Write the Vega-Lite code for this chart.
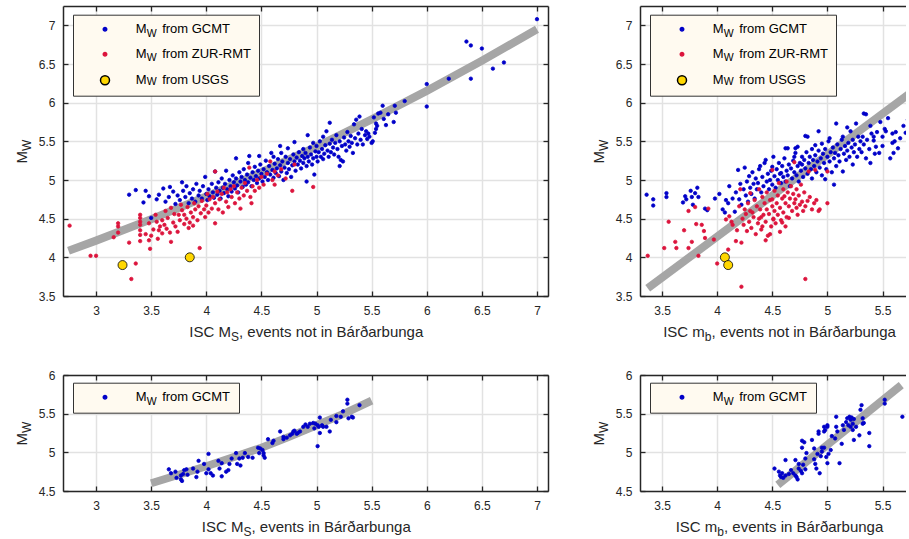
{
"$schema": "https://vega.github.io/schema/vega-lite/v6.json",
"background": "white",
"padding": {"left": 14, "top": 5, "right": 0, "bottom": 0},
"config": {
  "font": "Liberation Sans",
  "view": {"stroke": null},
  "axis": {"labelFontSize": 12, "labelColor": "#262626", "titleFontSize": 15, "titleColor": "#262626", "titleFontWeight": "normal", "domainColor": "#262626", "domainWidth": 1.5, "tickColor": "#262626", "tickWidth": 1.3, "tickSize": -5, "gridColor": "#e2e2e2", "gridWidth": 1.5, "labelFlush": false, "labelOverlap": false, "labelBound": false, "labelPadding": 13},
  "legend": {"labelFontSize": 13, "labelColor": "#000000", "labelLimit": 400}
},
"datasets": {
"ftl": [{"x":2.75,"y":4.086},{"x":3.0,"y":4.216},{"x":3.5,"y":4.492},{"x":4.0,"y":4.786},{"x":4.5,"y":5.1},{"x":5.0,"y":5.432},{"x":5.5,"y":5.783},{"x":6.0,"y":6.153},{"x":6.5,"y":6.542},{"x":7.0,"y":6.95}],
"ftr": [{"x":3.37,"y":3.6},{"x":5.9,"y":6.28}],
"fbl": [{"x":3.5,"y":4.6},{"x":3.75,"y":4.71},{"x":4.0,"y":4.82},{"x":4.25,"y":4.94},{"x":4.5,"y":5.06},{"x":4.75,"y":5.2},{"x":5.0,"y":5.35},{"x":5.25,"y":5.5},{"x":5.5,"y":5.67}],
"fbr": [{"x":4.55,"y":4.58},{"x":5.67,"y":5.87}],
"tl": [
{"x":3.30,"y":4.81,"s":"G"},{"x":3.36,"y":4.87,"s":"G"},{"x":3.43,"y":4.71,"s":"G"},{"x":3.45,"y":4.86,"s":"G"},{"x":3.48,"y":4.79,"s":"G"},{"x":3.50,"y":4.51,"s":"G"},{"x":3.55,"y":4.75,"s":"G"},{"x":3.57,"y":4.81,"s":"G"},{"x":3.61,"y":4.89,"s":"G"},{"x":3.63,"y":4.72,"s":"G"},
{"x":3.66,"y":4.78,"s":"G"},{"x":3.67,"y":4.91,"s":"G"},{"x":3.70,"y":4.85,"s":"G"},{"x":3.72,"y":4.69,"s":"G"},{"x":3.74,"y":4.80,"s":"G"},{"x":3.76,"y":4.74,"s":"G"},{"x":3.78,"y":4.97,"s":"G"},{"x":3.79,"y":4.86,"s":"G"},{"x":3.81,"y":4.78,"s":"G"},{"x":3.82,"y":4.92,"s":"G"},
{"x":3.84,"y":4.70,"s":"G"},{"x":3.85,"y":4.83,"s":"G"},{"x":3.87,"y":4.76,"s":"G"},{"x":3.88,"y":4.88,"s":"G"},{"x":3.90,"y":4.72,"s":"G"},{"x":3.91,"y":4.95,"s":"G"},{"x":3.93,"y":4.80,"s":"G"},{"x":3.94,"y":4.86,"s":"G"},{"x":3.96,"y":4.76,"s":"G"},{"x":3.97,"y":4.92,"s":"G"},
{"x":3.99,"y":5.04,"s":"G"},{"x":4.00,"y":4.82,"s":"G"},{"x":4.01,"y":4.74,"s":"G"},{"x":4.02,"y":4.88,"s":"G"},{"x":4.03,"y":4.79,"s":"G"},{"x":4.05,"y":4.95,"s":"G"},{"x":4.06,"y":4.84,"s":"G"},{"x":4.07,"y":4.77,"s":"G"},{"x":4.08,"y":5.11,"s":"G"},{"x":4.09,"y":4.90,"s":"G"},
{"x":4.10,"y":4.81,"s":"G"},{"x":4.11,"y":4.97,"s":"G"},{"x":4.12,"y":4.86,"s":"G"},{"x":4.13,"y":4.76,"s":"G"},{"x":4.14,"y":5.02,"s":"G"},{"x":4.15,"y":4.90,"s":"G"},{"x":4.16,"y":4.83,"s":"G"},{"x":4.17,"y":4.95,"s":"G"},{"x":4.18,"y":5.12,"s":"G"},{"x":4.19,"y":4.88,"s":"G"},
{"x":4.20,"y":4.79,"s":"G"},{"x":4.21,"y":5.00,"s":"G"},{"x":4.22,"y":4.92,"s":"G"},{"x":4.23,"y":4.85,"s":"G"},{"x":4.24,"y":5.06,"s":"G"},{"x":4.25,"y":4.97,"s":"G"},{"x":4.26,"y":4.89,"s":"G"},{"x":4.27,"y":5.28,"s":"G"},{"x":4.27,"y":5.02,"s":"G"},{"x":4.28,"y":4.93,"s":"G"},
{"x":4.29,"y":4.84,"s":"G"},{"x":4.30,"y":5.10,"s":"G"},{"x":4.31,"y":4.98,"s":"G"},{"x":4.32,"y":5.04,"s":"G"},{"x":4.33,"y":4.91,"s":"G"},{"x":4.34,"y":5.14,"s":"G"},{"x":4.35,"y":5.00,"s":"G"},{"x":4.36,"y":4.94,"s":"G"},{"x":4.37,"y":5.07,"s":"G"},{"x":4.38,"y":5.22,"s":"G"},
{"x":4.38,"y":4.97,"s":"G"},{"x":4.39,"y":5.31,"s":"G"},{"x":4.40,"y":5.03,"s":"G"},{"x":4.41,"y":4.92,"s":"G"},{"x":4.42,"y":5.10,"s":"G"},{"x":4.43,"y":5.00,"s":"G"},{"x":4.44,"y":5.17,"s":"G"},{"x":4.45,"y":5.05,"s":"G"},{"x":4.46,"y":4.96,"s":"G"},{"x":4.47,"y":5.12,"s":"G"},
{"x":4.48,"y":5.31,"s":"G"},{"x":4.48,"y":5.02,"s":"G"},{"x":4.49,"y":5.20,"s":"G"},{"x":4.50,"y":5.08,"s":"G"},{"x":4.51,"y":4.98,"s":"G"},{"x":4.52,"y":5.14,"s":"G"},{"x":4.53,"y":5.04,"s":"G"},{"x":4.54,"y":5.25,"s":"G"},{"x":4.55,"y":5.10,"s":"G"},{"x":4.56,"y":5.00,"s":"G"},
{"x":4.57,"y":5.18,"s":"G"},{"x":4.58,"y":5.07,"s":"G"},{"x":4.59,"y":5.35,"s":"G"},{"x":4.60,"y":5.13,"s":"G"},{"x":4.61,"y":5.30,"s":"G"},{"x":4.61,"y":5.03,"s":"G"},{"x":4.62,"y":5.21,"s":"G"},{"x":4.63,"y":5.09,"s":"G"},{"x":4.64,"y":5.15,"s":"G"},{"x":4.65,"y":5.27,"s":"G"},
{"x":4.66,"y":5.05,"s":"G"},{"x":4.67,"y":5.44,"s":"G"},{"x":4.67,"y":5.19,"s":"G"},{"x":4.68,"y":5.35,"s":"G"},{"x":4.68,"y":5.11,"s":"G"},{"x":4.69,"y":5.24,"s":"G"},{"x":4.70,"y":5.00,"s":"G"},{"x":4.71,"y":5.16,"s":"G"},{"x":4.72,"y":5.30,"s":"G"},{"x":4.73,"y":5.09,"s":"G"},
{"x":4.74,"y":5.41,"s":"G"},{"x":4.74,"y":5.22,"s":"G"},{"x":4.75,"y":5.14,"s":"G"},{"x":4.76,"y":5.27,"s":"G"},{"x":4.77,"y":5.04,"s":"G"},{"x":4.78,"y":5.19,"s":"G"},{"x":4.79,"y":5.33,"s":"G"},{"x":4.80,"y":5.49,"s":"G"},{"x":4.80,"y":5.24,"s":"G"},{"x":4.81,"y":5.12,"s":"G"},
{"x":4.82,"y":5.29,"s":"G"},{"x":4.83,"y":5.20,"s":"G"},{"x":4.84,"y":5.36,"s":"G"},{"x":4.85,"y":5.25,"s":"G"},{"x":4.86,"y":5.15,"s":"G"},{"x":4.87,"y":5.31,"s":"G"},{"x":4.88,"y":5.40,"s":"G"},{"x":4.88,"y":5.22,"s":"G"},{"x":4.89,"y":5.28,"s":"G"},{"x":4.90,"y":5.35,"s":"G"},
{"x":4.91,"y":4.98,"s":"G"},{"x":4.91,"y":5.18,"s":"G"},{"x":4.92,"y":5.58,"s":"G"},{"x":4.92,"y":5.30,"s":"G"},{"x":4.93,"y":5.24,"s":"G"},{"x":4.94,"y":5.42,"s":"G"},{"x":4.95,"y":5.33,"s":"G"},{"x":4.96,"y":5.20,"s":"G"},{"x":4.97,"y":5.48,"s":"G"},{"x":4.97,"y":5.28,"s":"G"},
{"x":4.98,"y":5.07,"s":"G"},{"x":4.99,"y":5.37,"s":"G"},{"x":5.00,"y":5.44,"s":"G"},{"x":5.00,"y":5.30,"s":"G"},{"x":5.01,"y":5.24,"s":"G"},{"x":5.02,"y":5.36,"s":"G"},{"x":5.03,"y":5.50,"s":"G"},{"x":5.04,"y":5.30,"s":"G"},{"x":5.05,"y":5.40,"s":"G"},{"x":5.06,"y":5.56,"s":"G"},
{"x":5.06,"y":5.27,"s":"G"},{"x":5.07,"y":5.34,"s":"G"},{"x":5.08,"y":5.45,"s":"G"},{"x":5.09,"y":5.63,"s":"G"},{"x":5.10,"y":5.38,"s":"G"},{"x":5.11,"y":5.30,"s":"G"},{"x":5.12,"y":5.74,"s":"G"},{"x":5.12,"y":5.47,"s":"G"},{"x":5.13,"y":5.36,"s":"G"},{"x":5.14,"y":5.52,"s":"G"},
{"x":5.15,"y":5.42,"s":"G"},{"x":5.16,"y":5.33,"s":"G"},{"x":5.17,"y":5.48,"s":"G"},{"x":5.18,"y":5.58,"s":"G"},{"x":5.19,"y":5.40,"s":"G"},{"x":5.20,"y":5.30,"s":"G"},{"x":5.21,"y":5.18,"s":"G"},{"x":5.21,"y":5.50,"s":"G"},{"x":5.22,"y":5.26,"s":"G"},{"x":5.23,"y":5.44,"s":"G"},
{"x":5.24,"y":5.24,"s":"G"},{"x":5.25,"y":5.55,"s":"G"},{"x":5.26,"y":5.46,"s":"G"},{"x":5.27,"y":5.38,"s":"G"},{"x":5.28,"y":5.62,"s":"G"},{"x":5.29,"y":5.50,"s":"G"},{"x":5.30,"y":5.43,"s":"G"},{"x":5.31,"y":5.57,"s":"G"},{"x":5.32,"y":5.48,"s":"G"},{"x":5.33,"y":5.35,"s":"G"},
{"x":5.34,"y":5.72,"s":"G"},{"x":5.35,"y":5.54,"s":"G"},{"x":5.36,"y":5.78,"s":"G"},{"x":5.37,"y":5.46,"s":"G"},{"x":5.38,"y":5.60,"s":"G"},{"x":5.39,"y":5.82,"s":"G"},{"x":5.40,"y":5.52,"s":"G"},{"x":5.41,"y":5.66,"s":"G"},{"x":5.42,"y":5.46,"s":"G"},{"x":5.44,"y":5.58,"s":"G"},
{"x":5.45,"y":5.63,"s":"G"},{"x":5.46,"y":5.53,"s":"G"},{"x":5.47,"y":5.60,"s":"G"},{"x":5.48,"y":5.56,"s":"G"},{"x":5.50,"y":5.48,"s":"G"},{"x":5.51,"y":5.50,"s":"G"},{"x":5.52,"y":5.81,"s":"G"},{"x":5.53,"y":5.61,"s":"G"},{"x":5.54,"y":5.66,"s":"G"},{"x":5.54,"y":5.73,"s":"G"},
{"x":5.55,"y":5.70,"s":"G"},{"x":5.56,"y":5.86,"s":"G"},{"x":5.58,"y":5.87,"s":"G"},{"x":5.60,"y":5.96,"s":"G"},{"x":5.61,"y":5.79,"s":"G"},{"x":5.63,"y":5.71,"s":"G"},{"x":5.65,"y":5.85,"s":"G"},{"x":5.70,"y":5.75,"s":"G"},{"x":5.71,"y":5.96,"s":"G"},{"x":5.72,"y":5.87,"s":"G"},
{"x":5.80,"y":6.02,"s":"G"},{"x":6.00,"y":6.24,"s":"G"},{"x":6.00,"y":5.95,"s":"G"},{"x":6.20,"y":6.31,"s":"G"},{"x":6.36,"y":6.79,"s":"G"},{"x":6.40,"y":6.74,"s":"G"},{"x":6.40,"y":6.31,"s":"G"},{"x":6.50,"y":6.70,"s":"G"},{"x":6.60,"y":6.44,"s":"G"},{"x":6.70,"y":6.52,"s":"G"},
{"x":7.00,"y":7.08,"s":"G"},
{"x":2.76,"y":4.41,"s":"Z"},{"x":2.95,"y":4.02,"s":"Z"},{"x":3.00,"y":4.02,"s":"Z"},{"x":3.16,"y":4.26,"s":"Z"},{"x":3.20,"y":4.44,"s":"Z"},{"x":3.20,"y":4.40,"s":"Z"},{"x":3.20,"y":4.32,"s":"Z"},{"x":3.30,"y":4.19,"s":"Z"},{"x":3.32,"y":3.72,"s":"Z"},{"x":3.36,"y":3.92,"s":"Z"},
{"x":3.40,"y":4.55,"s":"Z"},{"x":3.40,"y":4.51,"s":"Z"},{"x":3.40,"y":4.46,"s":"Z"},{"x":3.40,"y":4.42,"s":"Z"},{"x":3.40,"y":4.35,"s":"Z"},{"x":3.40,"y":4.29,"s":"Z"},{"x":3.40,"y":4.21,"s":"Z"},{"x":3.45,"y":4.30,"s":"Z"},{"x":3.48,"y":4.44,"s":"Z"},{"x":3.48,"y":4.22,"s":"Z"},
{"x":3.49,"y":4.11,"s":"Z"},{"x":3.50,"y":4.28,"s":"Z"},{"x":3.52,"y":4.36,"s":"Z"},{"x":3.54,"y":4.55,"s":"Z"},{"x":3.55,"y":4.46,"s":"Z"},{"x":3.56,"y":4.24,"s":"Z"},{"x":3.57,"y":4.35,"s":"Z"},{"x":3.58,"y":4.40,"s":"Z"},{"x":3.60,"y":4.48,"s":"Z"},{"x":3.60,"y":4.31,"s":"Z"},
{"x":3.62,"y":4.42,"s":"Z"},{"x":3.63,"y":4.60,"s":"Z"},{"x":3.64,"y":4.37,"s":"Z"},{"x":3.65,"y":4.51,"s":"Z"},{"x":3.67,"y":4.32,"s":"Z"},{"x":3.68,"y":4.20,"s":"Z"},{"x":3.68,"y":4.64,"s":"Z"},{"x":3.70,"y":4.45,"s":"Z"},{"x":3.71,"y":4.56,"s":"Z"},{"x":3.72,"y":4.40,"s":"Z"},
{"x":3.74,"y":4.33,"s":"Z"},{"x":3.75,"y":4.55,"s":"Z"},{"x":3.76,"y":4.48,"s":"Z"},{"x":3.77,"y":4.68,"s":"Z"},{"x":3.78,"y":4.61,"s":"Z"},{"x":3.80,"y":4.43,"s":"Z"},{"x":3.80,"y":4.55,"s":"Z"},{"x":3.82,"y":4.50,"s":"Z"},{"x":3.83,"y":4.65,"s":"Z"},{"x":3.84,"y":4.38,"s":"Z"},
{"x":3.85,"y":4.45,"s":"Z"},{"x":3.86,"y":4.58,"s":"Z"},{"x":3.88,"y":4.41,"s":"Z"},{"x":3.88,"y":4.52,"s":"Z"},{"x":3.89,"y":4.70,"s":"Z"},{"x":3.90,"y":4.62,"s":"Z"},{"x":3.92,"y":4.48,"s":"Z"},{"x":3.93,"y":4.66,"s":"Z"},{"x":3.94,"y":4.12,"s":"Z"},{"x":3.95,"y":4.57,"s":"Z"},
{"x":3.96,"y":4.73,"s":"Z"},{"x":3.98,"y":4.62,"s":"Z"},{"x":3.99,"y":4.52,"s":"Z"},{"x":4.00,"y":4.67,"s":"Z"},{"x":4.01,"y":4.82,"s":"Z"},{"x":4.02,"y":4.58,"s":"Z"},{"x":4.03,"y":4.75,"s":"Z"},{"x":4.05,"y":4.63,"s":"Z"},{"x":4.06,"y":4.78,"s":"Z"},{"x":4.08,"y":4.44,"s":"Z"},
{"x":4.08,"y":4.70,"s":"Z"},{"x":4.08,"y":5.11,"s":"Z"},{"x":4.10,"y":4.85,"s":"Z"},{"x":4.11,"y":4.62,"s":"Z"},{"x":4.12,"y":4.75,"s":"Z"},{"x":4.14,"y":4.82,"s":"Z"},{"x":4.15,"y":4.58,"s":"Z"},{"x":4.16,"y":4.90,"s":"Z"},{"x":4.18,"y":4.72,"s":"Z"},{"x":4.19,"y":4.84,"s":"Z"},
{"x":4.20,"y":4.65,"s":"Z"},{"x":4.22,"y":4.88,"s":"Z"},{"x":4.23,"y":4.78,"s":"Z"},{"x":4.25,"y":4.92,"s":"Z"},{"x":4.26,"y":4.70,"s":"Z"},{"x":4.28,"y":4.84,"s":"Z"},{"x":4.30,"y":4.76,"s":"Z"},{"x":4.31,"y":4.63,"s":"Z"},{"x":4.32,"y":4.90,"s":"Z"},{"x":4.34,"y":4.80,"s":"Z"},
{"x":4.35,"y":4.96,"s":"Z"},{"x":4.37,"y":4.86,"s":"Z"},{"x":4.39,"y":5.16,"s":"Z"},{"x":4.40,"y":4.78,"s":"Z"},{"x":4.41,"y":4.70,"s":"Z"},{"x":4.42,"y":4.92,"s":"Z"},{"x":4.44,"y":4.86,"s":"Z"},{"x":4.46,"y":5.00,"s":"Z"},{"x":4.48,"y":4.90,"s":"Z"},{"x":4.50,"y":5.04,"s":"Z"},
{"x":4.52,"y":4.94,"s":"Z"},{"x":4.55,"y":5.08,"s":"Z"},{"x":4.58,"y":5.24,"s":"Z"},{"x":4.60,"y":5.00,"s":"Z"},{"x":4.62,"y":4.94,"s":"Z"},{"x":4.62,"y":5.11,"s":"Z"},{"x":4.65,"y":5.06,"s":"Z"},{"x":4.68,"y":5.14,"s":"Z"},{"x":4.72,"y":5.02,"s":"Z"},{"x":4.78,"y":4.86,"s":"Z"},
{"x":4.80,"y":5.20,"s":"Z"},{"x":4.97,"y":4.91,"s":"Z"},
{"x":3.24,"y":3.90,"s":"U"},{"x":3.85,"y":4.00,"s":"U"}
],
"tr": [
{"x":3.36,"y":4.81,"s":"G"},{"x":3.42,"y":4.75,"s":"G"},{"x":3.42,"y":4.67,"s":"G"},{"x":3.54,"y":4.83,"s":"G"},{"x":3.54,"y":4.78,"s":"G"},{"x":3.69,"y":4.71,"s":"G"},{"x":3.71,"y":4.79,"s":"G"},{"x":3.72,"y":4.75,"s":"G"},{"x":3.76,"y":4.86,"s":"G"},{"x":3.77,"y":4.78,"s":"G"},
{"x":3.78,"y":4.68,"s":"G"},{"x":3.80,"y":4.83,"s":"G"},{"x":3.82,"y":4.90,"s":"G"},{"x":3.83,"y":4.78,"s":"G"},{"x":3.89,"y":4.63,"s":"G"},{"x":3.91,"y":4.61,"s":"G"},{"x":3.98,"y":4.76,"s":"G"},{"x":4.02,"y":4.82,"s":"G"},{"x":4.05,"y":4.62,"s":"G"},{"x":4.07,"y":4.58,"s":"G"},
{"x":4.08,"y":4.74,"s":"G"},{"x":4.10,"y":4.70,"s":"G"},{"x":4.11,"y":4.92,"s":"G"},{"x":4.14,"y":4.76,"s":"G"},{"x":4.16,"y":4.59,"s":"G"},{"x":4.17,"y":4.84,"s":"G"},{"x":4.19,"y":5.13,"s":"G"},{"x":4.20,"y":4.75,"s":"G"},{"x":4.21,"y":4.95,"s":"G"},{"x":4.22,"y":4.68,"s":"G"},
{"x":4.24,"y":4.88,"s":"G"},{"x":4.25,"y":5.16,"s":"G"},{"x":4.26,"y":4.80,"s":"G"},{"x":4.27,"y":4.98,"s":"G"},{"x":4.28,"y":4.72,"s":"G"},{"x":4.29,"y":5.05,"s":"G"},{"x":4.30,"y":4.90,"s":"G"},{"x":4.31,"y":4.82,"s":"G"},{"x":4.32,"y":5.10,"s":"G"},{"x":4.33,"y":4.95,"s":"G"},
{"x":4.34,"y":4.76,"s":"G"},{"x":4.35,"y":5.02,"s":"G"},{"x":4.36,"y":4.88,"s":"G"},{"x":4.37,"y":4.96,"s":"G"},{"x":4.38,"y":5.14,"s":"G"},{"x":4.39,"y":5.18,"s":"G"},{"x":4.40,"y":4.84,"s":"G"},{"x":4.41,"y":5.04,"s":"G"},{"x":4.42,"y":4.92,"s":"G"},{"x":4.43,"y":5.22,"s":"G"},
{"x":4.44,"y":5.26,"s":"G"},{"x":4.45,"y":4.98,"s":"G"},{"x":4.46,"y":5.08,"s":"G"},{"x":4.47,"y":4.88,"s":"G"},{"x":4.48,"y":5.00,"s":"G"},{"x":4.49,"y":5.12,"s":"G"},{"x":4.50,"y":5.17,"s":"G"},{"x":4.50,"y":4.94,"s":"G"},{"x":4.51,"y":5.30,"s":"G"},{"x":4.52,"y":5.05,"s":"G"},
{"x":4.53,"y":4.90,"s":"G"},{"x":4.54,"y":5.14,"s":"G"},{"x":4.55,"y":5.00,"s":"G"},{"x":4.56,"y":5.22,"s":"G"},{"x":4.57,"y":5.08,"s":"G"},{"x":4.58,"y":5.09,"s":"G"},{"x":4.58,"y":4.96,"s":"G"},{"x":4.59,"y":5.18,"s":"G"},{"x":4.60,"y":5.04,"s":"G"},{"x":4.61,"y":5.28,"s":"G"},
{"x":4.62,"y":5.41,"s":"G"},{"x":4.62,"y":4.98,"s":"G"},{"x":4.63,"y":5.12,"s":"G"},{"x":4.64,"y":5.41,"s":"G"},{"x":4.64,"y":5.06,"s":"G"},{"x":4.65,"y":5.20,"s":"G"},{"x":4.66,"y":4.92,"s":"G"},{"x":4.67,"y":5.15,"s":"G"},{"x":4.68,"y":5.02,"s":"G"},{"x":4.69,"y":5.25,"s":"G"},
{"x":4.70,"y":5.30,"s":"G"},{"x":4.70,"y":5.10,"s":"G"},{"x":4.71,"y":5.35,"s":"G"},{"x":4.71,"y":5.41,"s":"G"},{"x":4.72,"y":5.06,"s":"G"},{"x":4.73,"y":5.43,"s":"G"},{"x":4.73,"y":5.18,"s":"G"},{"x":4.74,"y":4.98,"s":"G"},{"x":4.75,"y":5.22,"s":"G"},{"x":4.76,"y":5.12,"s":"G"},
{"x":4.77,"y":5.20,"s":"G"},{"x":4.77,"y":5.30,"s":"G"},{"x":4.78,"y":5.04,"s":"G"},{"x":4.79,"y":5.26,"s":"G"},{"x":4.80,"y":5.57,"s":"G"},{"x":4.80,"y":5.15,"s":"G"},{"x":4.81,"y":5.36,"s":"G"},{"x":4.82,"y":5.56,"s":"G"},{"x":4.82,"y":5.08,"s":"G"},{"x":4.83,"y":5.22,"s":"G"},
{"x":4.84,"y":5.30,"s":"G"},{"x":4.85,"y":5.14,"s":"G"},{"x":4.86,"y":5.40,"s":"G"},{"x":4.86,"y":5.02,"s":"G"},{"x":4.87,"y":5.26,"s":"G"},{"x":4.88,"y":5.18,"s":"G"},{"x":4.89,"y":5.45,"s":"G"},{"x":4.89,"y":5.32,"s":"G"},{"x":4.90,"y":5.10,"s":"G"},{"x":4.91,"y":5.24,"s":"G"},
{"x":4.92,"y":5.63,"s":"G"},{"x":4.92,"y":5.38,"s":"G"},{"x":4.93,"y":5.16,"s":"G"},{"x":4.94,"y":5.28,"s":"G"},{"x":4.95,"y":5.47,"s":"G"},{"x":4.95,"y":5.06,"s":"G"},{"x":4.96,"y":5.34,"s":"G"},{"x":4.97,"y":5.22,"s":"G"},{"x":4.98,"y":5.01,"s":"G"},{"x":4.98,"y":5.40,"s":"G"},
{"x":4.99,"y":5.14,"s":"G"},{"x":5.00,"y":5.30,"s":"G"},{"x":5.01,"y":5.50,"s":"G"},{"x":5.02,"y":5.54,"s":"G"},{"x":5.02,"y":5.24,"s":"G"},{"x":5.03,"y":5.36,"s":"G"},{"x":5.04,"y":5.10,"s":"G"},{"x":5.05,"y":5.42,"s":"G"},{"x":5.06,"y":4.94,"s":"G"},{"x":5.06,"y":5.28,"s":"G"},
{"x":5.07,"y":5.35,"s":"G"},{"x":5.08,"y":5.73,"s":"G"},{"x":5.08,"y":5.18,"s":"G"},{"x":5.09,"y":5.46,"s":"G"},{"x":5.10,"y":5.32,"s":"G"},{"x":5.11,"y":5.24,"s":"G"},{"x":5.12,"y":5.40,"s":"G"},{"x":5.13,"y":5.52,"s":"G"},{"x":5.14,"y":5.11,"s":"G"},{"x":5.14,"y":5.56,"s":"G"},
{"x":5.15,"y":5.34,"s":"G"},{"x":5.16,"y":5.44,"s":"G"},{"x":5.17,"y":5.26,"s":"G"},{"x":5.18,"y":5.68,"s":"G"},{"x":5.18,"y":5.38,"s":"G"},{"x":5.19,"y":5.48,"s":"G"},{"x":5.20,"y":5.30,"s":"G"},{"x":5.21,"y":5.63,"s":"G"},{"x":5.22,"y":5.42,"s":"G"},{"x":5.23,"y":5.20,"s":"G"},
{"x":5.23,"y":5.52,"s":"G"},{"x":5.24,"y":5.36,"s":"G"},{"x":5.25,"y":5.46,"s":"G"},{"x":5.26,"y":5.73,"s":"G"},{"x":5.27,"y":5.30,"s":"G"},{"x":5.28,"y":5.56,"s":"G"},{"x":5.29,"y":5.40,"s":"G"},{"x":5.30,"y":5.50,"s":"G"},{"x":5.31,"y":5.36,"s":"G"},{"x":5.32,"y":5.56,"s":"G"},
{"x":5.33,"y":5.86,"s":"G"},{"x":5.33,"y":5.46,"s":"G"},{"x":5.35,"y":5.85,"s":"G"},{"x":5.35,"y":5.28,"s":"G"},{"x":5.36,"y":5.52,"s":"G"},{"x":5.38,"y":5.40,"s":"G"},{"x":5.39,"y":5.70,"s":"G"},{"x":5.39,"y":5.22,"s":"G"},{"x":5.40,"y":5.60,"s":"G"},{"x":5.42,"y":5.56,"s":"G"},
{"x":5.42,"y":5.51,"s":"G"},{"x":5.43,"y":5.34,"s":"G"},{"x":5.44,"y":5.43,"s":"G"},{"x":5.45,"y":5.62,"s":"G"},{"x":5.47,"y":5.35,"s":"G"},{"x":5.48,"y":5.75,"s":"G"},{"x":5.50,"y":5.56,"s":"G"},{"x":5.50,"y":5.44,"s":"G"},{"x":5.52,"y":5.66,"s":"G"},{"x":5.53,"y":5.63,"s":"G"},
{"x":5.55,"y":5.80,"s":"G"},{"x":5.57,"y":5.28,"s":"G"},{"x":5.59,"y":5.60,"s":"G"},{"x":5.59,"y":5.48,"s":"G"},{"x":5.60,"y":5.35,"s":"G"},{"x":5.61,"y":5.50,"s":"G"},{"x":5.62,"y":5.62,"s":"G"},{"x":5.64,"y":5.41,"s":"G"},{"x":5.66,"y":5.54,"s":"G"},{"x":5.69,"y":5.70,"s":"G"},
{"x":5.71,"y":5.61,"s":"G"},{"x":5.73,"y":5.78,"s":"G"},
{"x":3.37,"y":4.02,"s":"Z"},{"x":3.52,"y":4.12,"s":"Z"},{"x":3.56,"y":4.46,"s":"Z"},{"x":3.62,"y":4.20,"s":"Z"},{"x":3.63,"y":4.12,"s":"Z"},{"x":3.70,"y":4.35,"s":"Z"},{"x":3.74,"y":4.60,"s":"Z"},{"x":3.74,"y":4.12,"s":"Z"},{"x":3.77,"y":4.20,"s":"Z"},{"x":3.80,"y":4.65,"s":"Z"},
{"x":3.81,"y":4.43,"s":"Z"},{"x":3.83,"y":4.02,"s":"Z"},{"x":3.86,"y":4.42,"s":"Z"},{"x":3.88,"y":4.34,"s":"Z"},{"x":3.89,"y":4.25,"s":"Z"},{"x":3.92,"y":4.63,"s":"Z"},{"x":3.97,"y":4.23,"s":"Z"},{"x":4.00,"y":3.92,"s":"Z"},{"x":4.08,"y":4.49,"s":"Z"},{"x":4.10,"y":4.10,"s":"Z"},
{"x":4.11,"y":4.53,"s":"Z"},{"x":4.13,"y":4.46,"s":"Z"},{"x":4.14,"y":4.42,"s":"Z"},{"x":4.17,"y":4.21,"s":"Z"},{"x":4.18,"y":4.35,"s":"Z"},{"x":4.20,"y":4.66,"s":"Z"},{"x":4.21,"y":4.88,"s":"Z"},{"x":4.22,"y":4.19,"s":"Z"},{"x":4.22,"y":3.62,"s":"Z"},{"x":4.23,"y":4.50,"s":"Z"},
{"x":4.24,"y":4.42,"s":"Z"},{"x":4.25,"y":4.62,"s":"Z"},{"x":4.26,"y":4.56,"s":"Z"},{"x":4.27,"y":4.34,"s":"Z"},{"x":4.28,"y":4.70,"s":"Z"},{"x":4.29,"y":4.46,"s":"Z"},{"x":4.30,"y":4.83,"s":"Z"},{"x":4.30,"y":4.60,"s":"Z"},{"x":4.31,"y":4.38,"s":"Z"},{"x":4.32,"y":4.58,"s":"Z"},
{"x":4.33,"y":4.52,"s":"Z"},{"x":4.34,"y":4.74,"s":"Z"},{"x":4.35,"y":4.30,"s":"Z"},{"x":4.36,"y":4.66,"s":"Z"},{"x":4.37,"y":4.44,"s":"Z"},{"x":4.38,"y":4.88,"s":"Z"},{"x":4.38,"y":4.50,"s":"Z"},{"x":4.39,"y":4.62,"s":"Z"},{"x":4.40,"y":4.36,"s":"Z"},{"x":4.41,"y":4.40,"s":"Z"},
{"x":4.41,"y":4.78,"s":"Z"},{"x":4.42,"y":4.55,"s":"Z"},{"x":4.43,"y":4.70,"s":"Z"},{"x":4.44,"y":4.46,"s":"Z"},{"x":4.45,"y":4.84,"s":"Z"},{"x":4.45,"y":4.62,"s":"Z"},{"x":4.46,"y":4.28,"s":"Z"},{"x":4.47,"y":4.56,"s":"Z"},{"x":4.48,"y":4.74,"s":"Z"},{"x":4.49,"y":4.40,"s":"Z"},
{"x":4.50,"y":5.13,"s":"Z"},{"x":4.50,"y":4.66,"s":"Z"},{"x":4.50,"y":4.75,"s":"Z"},{"x":4.51,"y":4.50,"s":"Z"},{"x":4.52,"y":4.86,"s":"Z"},{"x":4.52,"y":4.60,"s":"Z"},{"x":4.53,"y":4.44,"s":"Z"},{"x":4.54,"y":4.70,"s":"Z"},{"x":4.55,"y":4.80,"s":"Z"},{"x":4.55,"y":4.55,"s":"Z"},
{"x":4.56,"y":4.96,"s":"Z"},{"x":4.57,"y":4.64,"s":"Z"},{"x":4.58,"y":4.48,"s":"Z"},{"x":4.59,"y":4.45,"s":"Z"},{"x":4.59,"y":4.76,"s":"Z"},{"x":4.60,"y":4.88,"s":"Z"},{"x":4.60,"y":4.58,"s":"Z"},{"x":4.61,"y":4.79,"s":"Z"},{"x":4.62,"y":4.70,"s":"Z"},{"x":4.63,"y":4.98,"s":"Z"},
{"x":4.63,"y":4.52,"s":"Z"},{"x":4.64,"y":4.84,"s":"Z"},{"x":4.65,"y":4.51,"s":"Z"},{"x":4.65,"y":4.66,"s":"Z"},{"x":4.66,"y":4.76,"s":"Z"},{"x":4.67,"y":4.92,"s":"Z"},{"x":4.68,"y":4.60,"s":"Z"},{"x":4.69,"y":4.82,"s":"Z"},{"x":4.70,"y":5.23,"s":"Z"},{"x":4.70,"y":4.70,"s":"Z"},
{"x":4.71,"y":4.75,"s":"Z"},{"x":4.72,"y":4.64,"s":"Z"},{"x":4.72,"y":4.88,"s":"Z"},{"x":4.73,"y":4.55,"s":"Z"},{"x":4.74,"y":4.80,"s":"Z"},{"x":4.75,"y":4.68,"s":"Z"},{"x":4.76,"y":4.94,"s":"Z"},{"x":4.77,"y":4.72,"s":"Z"},{"x":4.78,"y":4.60,"s":"Z"},{"x":4.79,"y":4.84,"s":"Z"},
{"x":4.80,"y":3.72,"s":"Z"},{"x":4.80,"y":4.66,"s":"Z"},{"x":4.82,"y":4.73,"s":"Z"},{"x":4.83,"y":5.11,"s":"Z"},{"x":4.84,"y":4.78,"s":"Z"},{"x":4.86,"y":4.62,"s":"Z"},{"x":4.88,"y":4.70,"s":"Z"},{"x":4.89,"y":5.13,"s":"Z"},{"x":4.90,"y":4.74,"s":"Z"},{"x":4.92,"y":4.60,"s":"Z"},
{"x":4.93,"y":4.62,"s":"Z"},{"x":5.00,"y":4.70,"s":"Z"},{"x":5.00,"y":5.11,"s":"Z"},{"x":4.51,"y":4.49,"s":"Z"},{"x":4.57,"y":4.33,"s":"Z"},{"x":4.62,"y":4.40,"s":"Z"},{"x":4.48,"y":4.30,"s":"Z"},{"x":4.44,"y":4.22,"s":"Z"},{"x":4.40,"y":4.52,"s":"Z"},
{"x":4.07,"y":4.00,"s":"U"},{"x":4.10,"y":3.90,"s":"U"}
],
"bl": [
{"x":3.66,"y":4.78,"s":"G"},{"x":3.68,"y":4.73,"s":"G"},{"x":3.72,"y":4.75,"s":"G"},{"x":3.73,"y":4.67,"s":"G"},{"x":3.77,"y":4.70,"s":"G"},{"x":3.77,"y":4.65,"s":"G"},{"x":3.78,"y":4.63,"s":"G"},{"x":3.79,"y":4.72,"s":"G"},{"x":3.80,"y":4.77,"s":"G"},{"x":3.82,"y":4.78,"s":"G"},
{"x":3.83,"y":4.71,"s":"G"},{"x":3.88,"y":4.79,"s":"G"},{"x":3.91,"y":4.68,"s":"G"},{"x":3.92,"y":4.75,"s":"G"},{"x":3.93,"y":4.89,"s":"G"},{"x":3.98,"y":4.85,"s":"G"},{"x":4.00,"y":4.73,"s":"G"},{"x":4.02,"y":4.98,"s":"G"},{"x":4.02,"y":4.78,"s":"G"},{"x":4.04,"y":4.73,"s":"G"},
{"x":4.06,"y":4.70,"s":"G"},{"x":4.11,"y":4.89,"s":"G"},{"x":4.12,"y":4.79,"s":"G"},{"x":4.14,"y":4.86,"s":"G"},{"x":4.14,"y":4.69,"s":"G"},{"x":4.18,"y":4.75,"s":"G"},{"x":4.20,"y":4.77,"s":"G"},{"x":4.21,"y":4.85,"s":"G"},{"x":4.23,"y":4.92,"s":"G"},{"x":4.27,"y":4.99,"s":"G"},
{"x":4.28,"y":4.85,"s":"G"},{"x":4.30,"y":4.92,"s":"G"},{"x":4.31,"y":4.83,"s":"G"},{"x":4.33,"y":4.93,"s":"G"},{"x":4.35,"y":4.99,"s":"G"},{"x":4.38,"y":4.94,"s":"G"},{"x":4.42,"y":4.93,"s":"G"},{"x":4.47,"y":5.06,"s":"G"},{"x":4.48,"y":4.99,"s":"G"},{"x":4.49,"y":5.05,"s":"G"},
{"x":4.51,"y":5.03,"s":"G"},{"x":4.52,"y":4.96,"s":"G"},{"x":4.53,"y":4.93,"s":"G"},{"x":4.52,"y":4.99,"s":"G"},{"x":4.56,"y":5.17,"s":"G"},{"x":4.60,"y":5.12,"s":"G"},{"x":4.61,"y":5.15,"s":"G"},{"x":4.67,"y":5.27,"s":"G"},{"x":4.70,"y":5.20,"s":"G"},{"x":4.70,"y":5.17,"s":"G"},
{"x":4.73,"y":5.19,"s":"G"},{"x":4.76,"y":5.22,"s":"G"},{"x":4.78,"y":5.24,"s":"G"},{"x":4.80,"y":5.28,"s":"G"},{"x":4.82,"y":5.24,"s":"G"},{"x":4.79,"y":5.27,"s":"G"},{"x":4.83,"y":5.25,"s":"G"},{"x":4.85,"y":5.27,"s":"G"},{"x":4.88,"y":5.33,"s":"G"},{"x":4.90,"y":5.36,"s":"G"},
{"x":4.92,"y":5.33,"s":"G"},{"x":4.94,"y":5.37,"s":"G"},{"x":4.97,"y":5.38,"s":"G"},{"x":4.98,"y":5.31,"s":"G"},{"x":4.99,"y":5.37,"s":"G"},{"x":5.01,"y":5.08,"s":"G"},{"x":5.01,"y":5.35,"s":"G"},{"x":5.02,"y":5.33,"s":"G"},{"x":5.03,"y":5.45,"s":"G"},{"x":5.03,"y":5.25,"s":"G"},
{"x":5.05,"y":5.35,"s":"G"},{"x":5.06,"y":5.33,"s":"G"},{"x":5.09,"y":5.33,"s":"G"},{"x":5.12,"y":5.27,"s":"G"},{"x":5.13,"y":5.42,"s":"G"},{"x":5.18,"y":5.39,"s":"G"},{"x":5.18,"y":5.47,"s":"G"},{"x":5.22,"y":5.46,"s":"G"},{"x":5.24,"y":5.53,"s":"G"},{"x":5.28,"y":5.68,"s":"G"},
{"x":5.28,"y":5.63,"s":"G"},{"x":5.29,"y":5.44,"s":"G"},{"x":5.32,"y":5.46,"s":"G"},{"x":5.33,"y":5.45,"s":"G"},{"x":5.39,"y":5.61,"s":"G"}
],
"br": [
{"x":4.52,"y":4.79,"s":"G"},{"x":4.56,"y":4.75,"s":"G"},{"x":4.57,"y":4.70,"s":"G"},{"x":4.58,"y":4.68,"s":"G"},{"x":4.59,"y":4.73,"s":"G"},{"x":4.60,"y":4.67,"s":"G"},{"x":4.62,"y":4.70,"s":"G"},{"x":4.62,"y":4.90,"s":"G"},{"x":4.65,"y":4.72,"s":"G"},{"x":4.67,"y":4.77,"s":"G"},
{"x":4.69,"y":4.73,"s":"G"},{"x":4.71,"y":4.90,"s":"G"},{"x":4.71,"y":4.70,"s":"G"},{"x":4.72,"y":4.68,"s":"G"},{"x":4.73,"y":4.65,"s":"G"},{"x":4.74,"y":4.79,"s":"G"},{"x":4.74,"y":4.85,"s":"G"},{"x":4.76,"y":4.76,"s":"G"},{"x":4.77,"y":4.73,"s":"G"},{"x":4.78,"y":4.84,"s":"G"},
{"x":4.77,"y":5.06,"s":"G"},{"x":4.77,"y":5.15,"s":"G"},{"x":4.79,"y":5.13,"s":"G"},{"x":4.80,"y":4.92,"s":"G"},{"x":4.80,"y":4.78,"s":"G"},{"x":4.81,"y":4.99,"s":"G"},{"x":4.86,"y":5.16,"s":"G"},{"x":4.88,"y":5.05,"s":"G"},{"x":4.88,"y":4.91,"s":"G"},{"x":4.89,"y":4.85,"s":"G"},
{"x":4.90,"y":4.79,"s":"G"},{"x":4.91,"y":4.98,"s":"G"},{"x":4.92,"y":5.24,"s":"G"},{"x":4.92,"y":5.27,"s":"G"},{"x":4.93,"y":4.73,"s":"G"},{"x":4.94,"y":4.95,"s":"G"},{"x":4.95,"y":5.01,"s":"G"},{"x":4.95,"y":5.06,"s":"G"},{"x":4.97,"y":5.27,"s":"G"},{"x":4.98,"y":5.29,"s":"G"},
{"x":4.99,"y":4.94,"s":"G"},{"x":5.00,"y":5.35,"s":"G"},{"x":5.00,"y":5.33,"s":"G"},{"x":5.00,"y":4.86,"s":"G"},{"x":5.01,"y":4.98,"s":"G"},{"x":5.03,"y":5.03,"s":"G"},{"x":5.04,"y":5.21,"s":"G"},{"x":5.07,"y":5.18,"s":"G"},{"x":5.08,"y":5.33,"s":"G"},{"x":5.08,"y":5.46,"s":"G"},
{"x":5.09,"y":5.27,"s":"G"},{"x":5.11,"y":4.86,"s":"G"},{"x":5.13,"y":5.11,"s":"G"},{"x":5.14,"y":5.35,"s":"G"},{"x":5.15,"y":5.29,"s":"G"},{"x":5.17,"y":5.39,"s":"G"},{"x":5.18,"y":5.44,"s":"G"},{"x":5.19,"y":5.35,"s":"G"},{"x":5.20,"y":5.46,"s":"G"},{"x":5.21,"y":5.42,"s":"G"},
{"x":5.23,"y":5.37,"s":"G"},{"x":5.23,"y":5.29,"s":"G"},{"x":5.24,"y":5.16,"s":"G"},{"x":5.24,"y":5.43,"s":"G"},{"x":5.26,"y":5.33,"s":"G"},{"x":5.29,"y":5.22,"s":"G"},{"x":5.30,"y":5.55,"s":"G"},{"x":5.31,"y":5.61,"s":"G"},{"x":5.32,"y":5.44,"s":"G"},{"x":5.32,"y":5.37,"s":"G"},
{"x":5.33,"y":5.38,"s":"G"},{"x":5.38,"y":5.25,"s":"G"},{"x":5.38,"y":5.08,"s":"G"},{"x":5.52,"y":5.68,"s":"G"},{"x":5.52,"y":5.63,"s":"G"},{"x":5.68,"y":5.46,"s":"G"},{"x":4.97,"y":5.33,"s":"G"},{"x":5.21,"y":5.33,"s":"G"},{"x":4.97,"y":5.06,"s":"G"},{"x":5.22,"y":5.45,"s":"G"}
]
},
"columns": 2,
"spacing": {"row": 27, "column": 42},
"resolve": {"scale": {"color": "independent", "stroke": "independent", "size": "independent", "shape": "independent"}},
"concat": [
{
 "width": 485, "height": 290,
 "resolve": {"axis": {"x": "independent", "y": "independent"}},
 "layer": [
  {"data": {"name": "ftl"}, "mark": {"type": "line", "color": "#a6a6a6", "strokeWidth": 8, "strokeCap": "butt", "clip": true},
   "encoding": {
    "x": {"field": "x", "type": "quantitative", "scale": {"domain": [2.7, 7.1], "nice": false, "zero": false}, "axis": {"orient": "top", "values": [3,3.5,4,4.5,5,5.5,6,6.5,7], "labels": false, "grid": false, "title": null}},
    "y": {"field": "y", "type": "quantitative", "scale": {"domain": [3.5, 7.25], "nice": false, "zero": false}, "axis": {"orient": "right", "values": [3.5,4,4.5,5,5.5,6,6.5,7], "labels": false, "grid": false, "title": null}}
   }},
  {"data": {"name": "tl"}, "mark": {"type": "point", "filled": true, "opacity": 1, "strokeWidth": 0.8, "clip": true},
   "encoding": {
    "x": {"field": "x", "type": "quantitative", "axis": {"orient": "bottom", "values": [3,3.5,4,4.5,5,5.5,6,6.5,7], "format": "~g", "grid": true, "labelPadding": 14, "title": "ISC M", "titleX": 167.5, "titleY": 40, "titleAlign": "right", "titleBaseline": "alphabetic"}},
    "y": {"field": "y", "type": "quantitative", "axis": {"orient": "left", "values": [3.5,4,4.5,5,5.5,6,6.5,7], "format": "~g", "grid": true, "title": "M", "titleX": -36.5, "titleY": 156.9, "titleAngle": 270, "titleAlign": "left", "titleBaseline": "alphabetic"}},
    "color": {"field": "s", "type": "nominal", "scale": {"domain": ["G","Z","U"], "range": ["#0000c8","#dc143c","#ffd700"]}, "legend": {"title": null, "orient": "none", "legendX": 10, "legendY": 8.7, "fillColor": "#fffaf0", "strokeColor": "#333333", "padding": 8, "rowPadding": 11, "symbolOffset": 17.5, "labelOffset": 24.2, "labelExpr": "datum.value == 'G' ? 'M\u2003\u2009from GCMT' : datum.value == 'Z' ? 'M\u2003\u2009from ZUR-RMT' : 'M\u2003\u2009from USGS'"}},
    "stroke": {"field": "s", "type": "nominal", "scale": {"domain": ["G","Z","U"], "range": ["#0000c8","#dc143c","#000000"]}, "legend": {"title": null, "orient": "none", "legendX": 10, "legendY": 8.7, "fillColor": "#fffaf0", "strokeColor": "#333333", "padding": 8, "rowPadding": 11, "symbolOffset": 17.5, "labelOffset": 24.2, "labelExpr": "datum.value == 'G' ? 'M\u2003\u2009from GCMT' : datum.value == 'Z' ? 'M\u2003\u2009from ZUR-RMT' : 'M\u2003\u2009from USGS'"}},
    "size": {"field": "s", "type": "nominal", "scale": {"type": "ordinal", "domain": ["G","Z","U"], "range": [12,12,81]}, "legend": {"title": null, "orient": "none", "legendX": 10, "legendY": 8.7, "fillColor": "#fffaf0", "strokeColor": "#333333", "padding": 8, "rowPadding": 11, "symbolOffset": 17.5, "labelOffset": 24.2, "labelExpr": "datum.value == 'G' ? 'M\u2003\u2009from GCMT' : datum.value == 'Z' ? 'M\u2003\u2009from ZUR-RMT' : 'M\u2003\u2009from USGS'"}}
   }},
  {"data": {"name": "tl"}, "mark": {"type": "point", "filled": true, "opacity": 0, "size": 169, "strokeWidth": 0, "clip": true},
   "encoding": {
    "x": {"field": "x", "type": "quantitative", "axis": {"orient": "bottom", "labels": false, "ticks": false, "domain": false, "grid": false, "title": "S", "titleFontSize": 12, "titleX": 167.5, "titleY": 44, "titleAlign": "left", "titleBaseline": "alphabetic"}},
    "y": {"field": "y", "type": "quantitative", "axis": {"orient": "left", "labels": false, "ticks": false, "domain": false, "grid": false, "title": "W", "titleFontSize": 12, "titleX": -33, "titleY": 144.4, "titleAngle": 270, "titleAlign": "left", "titleBaseline": "alphabetic"}},
    "shape": {"field": "s", "type": "nominal", "scale": {"domain": ["G","Z","U"], "range": ["circle","circle","circle"]}, "legend": {"title": null, "orient": "top-left", "offset": 0, "padding": 21.4, "rowPadding": 11, "labelOffset": 49.3, "labelFontSize": 10.5, "symbolSize": 169, "symbolOpacity": 0, "symbolStrokeWidth": 0, "labelExpr": "'W'"}}
   }},
  {"data": {"name": "ftl"}, "mark": {"type": "point", "opacity": 0, "clip": true},
   "encoding": {
    "x": {"field": "x", "type": "quantitative", "axis": {"orient": "bottom", "labels": false, "ticks": false, "domain": false, "grid": false, "title": ", events not in Bárðarbunga", "titleX": 175.5, "titleY": 40, "titleAlign": "left", "titleBaseline": "alphabetic"}},
    "y": {"field": "y", "type": "quantitative", "axis": null}
   }}
 ]
},
{
 "width": 266, "height": 290,
 "resolve": {"axis": {"x": "independent", "y": "independent"}},
 "layer": [
  {"data": {"name": "ftr"}, "mark": {"type": "line", "color": "#a6a6a6", "strokeWidth": 8, "strokeCap": "butt", "clip": true},
   "encoding": {
    "x": {"field": "x", "type": "quantitative", "scale": {"domain": [3.3, 5.713], "nice": false, "zero": false}, "axis": {"orient": "top", "values": [3.5,4,4.5,5,5.5], "labels": false, "grid": false, "title": null}},
    "y": {"field": "y", "type": "quantitative", "scale": {"domain": [3.5, 7.25], "nice": false, "zero": false}, "axis": null}
   }},
  {"data": {"name": "tr"}, "mark": {"type": "point", "filled": true, "opacity": 1, "strokeWidth": 0.8, "clip": true},
   "encoding": {
    "x": {"field": "x", "type": "quantitative", "axis": {"orient": "bottom", "values": [3.5,4,4.5,5,5.5], "format": "~g", "grid": true, "labelPadding": 14, "title": "ISC m", "titleX": 64.35, "titleY": 40, "titleAlign": "right", "titleBaseline": "alphabetic"}},
    "y": {"field": "y", "type": "quantitative", "axis": {"orient": "left", "values": [3.5,4,4.5,5,5.5,6,6.5,7], "format": "~g", "grid": true, "title": "M", "titleX": -36.5, "titleY": 156.9, "titleAngle": 270, "titleAlign": "left", "titleBaseline": "alphabetic"}},
    "color": {"field": "s", "type": "nominal", "scale": {"domain": ["G","Z","U"], "range": ["#0000c8","#dc143c","#ffd700"]}, "legend": {"title": null, "orient": "none", "legendX": 10, "legendY": 8.7, "fillColor": "#fffaf0", "strokeColor": "#333333", "padding": 8, "rowPadding": 11, "symbolOffset": 17.5, "labelOffset": 24.2, "labelExpr": "datum.value == 'G' ? 'M\u2003\u2009from GCMT' : datum.value == 'Z' ? 'M\u2003\u2009from ZUR-RMT' : 'M\u2003\u2009from USGS'"}},
    "stroke": {"field": "s", "type": "nominal", "scale": {"domain": ["G","Z","U"], "range": ["#0000c8","#dc143c","#000000"]}, "legend": {"title": null, "orient": "none", "legendX": 10, "legendY": 8.7, "fillColor": "#fffaf0", "strokeColor": "#333333", "padding": 8, "rowPadding": 11, "symbolOffset": 17.5, "labelOffset": 24.2, "labelExpr": "datum.value == 'G' ? 'M\u2003\u2009from GCMT' : datum.value == 'Z' ? 'M\u2003\u2009from ZUR-RMT' : 'M\u2003\u2009from USGS'"}},
    "size": {"field": "s", "type": "nominal", "scale": {"type": "ordinal", "domain": ["G","Z","U"], "range": [12,12,81]}, "legend": {"title": null, "orient": "none", "legendX": 10, "legendY": 8.7, "fillColor": "#fffaf0", "strokeColor": "#333333", "padding": 8, "rowPadding": 11, "symbolOffset": 17.5, "labelOffset": 24.2, "labelExpr": "datum.value == 'G' ? 'M\u2003\u2009from GCMT' : datum.value == 'Z' ? 'M\u2003\u2009from ZUR-RMT' : 'M\u2003\u2009from USGS'"}}
   }},
  {"data": {"name": "tr"}, "mark": {"type": "point", "filled": true, "opacity": 0, "size": 169, "strokeWidth": 0, "clip": true},
   "encoding": {
    "x": {"field": "x", "type": "quantitative", "axis": {"orient": "bottom", "labels": false, "ticks": false, "domain": false, "grid": false, "title": "b", "titleFontSize": 12, "titleX": 64.35, "titleY": 44, "titleAlign": "left", "titleBaseline": "alphabetic"}},
    "y": {"field": "y", "type": "quantitative", "axis": {"orient": "left", "labels": false, "ticks": false, "domain": false, "grid": false, "title": "W", "titleFontSize": 12, "titleX": -33, "titleY": 144.4, "titleAngle": 270, "titleAlign": "left", "titleBaseline": "alphabetic"}},
    "shape": {"field": "s", "type": "nominal", "scale": {"domain": ["G","Z","U"], "range": ["circle","circle","circle"]}, "legend": {"title": null, "orient": "top-left", "offset": 0, "padding": 21.4, "rowPadding": 11, "labelOffset": 49.3, "labelFontSize": 10.5, "symbolSize": 169, "symbolOpacity": 0, "symbolStrokeWidth": 0, "labelExpr": "'W'"}}
   }},
  {"data": {"name": "ftr"}, "mark": {"type": "point", "opacity": 0, "clip": true},
   "encoding": {
    "x": {"field": "x", "type": "quantitative", "axis": {"orient": "bottom", "labels": false, "ticks": false, "domain": false, "grid": false, "title": ", events not in Bárðarbunga", "titleX": 71.05, "titleY": 40, "titleAlign": "left", "titleBaseline": "alphabetic"}},
    "y": {"field": "y", "type": "quantitative", "axis": null}
   }}
 ]
},
{
 "width": 485, "height": 116,
 "resolve": {"axis": {"x": "independent", "y": "independent"}},
 "layer": [
  {"data": {"name": "fbl"}, "mark": {"type": "line", "color": "#a6a6a6", "strokeWidth": 8, "strokeCap": "butt", "clip": true},
   "encoding": {
    "x": {"field": "x", "type": "quantitative", "scale": {"domain": [2.7, 7.1], "nice": false, "zero": false}, "axis": {"orient": "top", "values": [3,3.5,4,4.5,5,5.5,6,6.5,7], "labels": false, "grid": false, "title": null}},
    "y": {"field": "y", "type": "quantitative", "scale": {"domain": [4.5, 6], "nice": false, "zero": false}, "axis": {"orient": "right", "values": [4.5,5,5.5,6], "labels": false, "grid": false, "title": null}}
   }},
  {"data": {"name": "bl"}, "mark": {"type": "point", "filled": true, "opacity": 1, "strokeWidth": 0.8, "clip": true},
   "encoding": {
    "x": {"field": "x", "type": "quantitative", "axis": {"orient": "bottom", "values": [3,3.5,4,4.5,5,5.5,6,6.5,7], "format": "~g", "grid": true, "labelPadding": 14, "title": "ISC M", "titleX": 179.95, "titleY": 40, "titleAlign": "right", "titleBaseline": "alphabetic"}},
    "y": {"field": "y", "type": "quantitative", "axis": {"orient": "left", "values": [4.5,5,5.5,6], "format": "~g", "grid": true, "title": "M", "titleX": -36.5, "titleY": 69.9, "titleAngle": 270, "titleAlign": "left", "titleBaseline": "alphabetic"}},
    "color": {"field": "s", "type": "nominal", "scale": {"domain": ["G"], "range": ["#0000c8"]}, "legend": {"title": null, "orient": "none", "legendX": 10, "legendY": 7.7, "fillColor": "#fffaf0", "strokeColor": "#333333", "padding": 8, "rowPadding": 11, "symbolOffset": 17.5, "labelOffset": 24.2, "labelExpr": "'M\u2003\u2009from GCMT'"}},
    "stroke": {"field": "s", "type": "nominal", "scale": {"domain": ["G"], "range": ["#0000c8"]}, "legend": {"title": null, "orient": "none", "legendX": 10, "legendY": 7.7, "fillColor": "#fffaf0", "strokeColor": "#333333", "padding": 8, "rowPadding": 11, "symbolOffset": 17.5, "labelOffset": 24.2, "labelExpr": "'M\u2003\u2009from GCMT'"}},
    "size": {"field": "s", "type": "nominal", "scale": {"type": "ordinal", "domain": ["G"], "range": [12]}, "legend": {"title": null, "orient": "none", "legendX": 10, "legendY": 7.7, "fillColor": "#fffaf0", "strokeColor": "#333333", "padding": 8, "rowPadding": 11, "symbolOffset": 17.5, "labelOffset": 24.2, "labelExpr": "'M\u2003\u2009from GCMT'"}}
   }},
  {"data": {"name": "bl"}, "mark": {"type": "point", "filled": true, "opacity": 0, "size": 169, "strokeWidth": 0, "clip": true},
   "encoding": {
    "x": {"field": "x", "type": "quantitative", "axis": {"orient": "bottom", "labels": false, "ticks": false, "domain": false, "grid": false, "title": "S", "titleFontSize": 12, "titleX": 179.95, "titleY": 44, "titleAlign": "left", "titleBaseline": "alphabetic"}},
    "y": {"field": "y", "type": "quantitative", "axis": {"orient": "left", "labels": false, "ticks": false, "domain": false, "grid": false, "title": "W", "titleFontSize": 12, "titleX": -33, "titleY": 57.4, "titleAngle": 270, "titleAlign": "left", "titleBaseline": "alphabetic"}},
    "shape": {"field": "s", "type": "nominal", "scale": {"domain": ["G"], "range": ["circle"]}, "legend": {"title": null, "orient": "top-left", "offset": 0, "padding": 20.4, "rowPadding": 11, "labelOffset": 50.3, "labelFontSize": 10.5, "symbolSize": 169, "symbolOpacity": 0, "symbolStrokeWidth": 0, "labelExpr": "'W'"}}
   }},
  {"data": {"name": "fbl"}, "mark": {"type": "point", "opacity": 0, "clip": true},
   "encoding": {
    "x": {"field": "x", "type": "quantitative", "axis": {"orient": "bottom", "labels": false, "ticks": false, "domain": false, "grid": false, "title": ", events in Bárðarbunga", "titleX": 187.95, "titleY": 40, "titleAlign": "left", "titleBaseline": "alphabetic"}},
    "y": {"field": "y", "type": "quantitative", "axis": null}
   }}
 ]
},
{
 "width": 266, "height": 116,
 "resolve": {"axis": {"x": "independent", "y": "independent"}},
 "layer": [
  {"data": {"name": "fbr"}, "mark": {"type": "line", "color": "#a6a6a6", "strokeWidth": 8, "strokeCap": "butt", "clip": true},
   "encoding": {
    "x": {"field": "x", "type": "quantitative", "scale": {"domain": [3.3, 5.713], "nice": false, "zero": false}, "axis": {"orient": "top", "values": [3.5,4,4.5,5,5.5], "labels": false, "grid": false, "title": null}},
    "y": {"field": "y", "type": "quantitative", "scale": {"domain": [4.5, 6], "nice": false, "zero": false}, "axis": null}
   }},
  {"data": {"name": "br"}, "mark": {"type": "point", "filled": true, "opacity": 1, "strokeWidth": 0.8, "clip": true},
   "encoding": {
    "x": {"field": "x", "type": "quantitative", "axis": {"orient": "bottom", "values": [3.5,4,4.5,5,5.5], "format": "~g", "grid": true, "labelPadding": 14, "title": "ISC m", "titleX": 76.8, "titleY": 40, "titleAlign": "right", "titleBaseline": "alphabetic"}},
    "y": {"field": "y", "type": "quantitative", "axis": {"orient": "left", "values": [4.5,5,5.5,6], "format": "~g", "grid": true, "title": "M", "titleX": -36.5, "titleY": 69.9, "titleAngle": 270, "titleAlign": "left", "titleBaseline": "alphabetic"}},
    "color": {"field": "s", "type": "nominal", "scale": {"domain": ["G"], "range": ["#0000c8"]}, "legend": {"title": null, "orient": "none", "legendX": 10, "legendY": 7.7, "fillColor": "#fffaf0", "strokeColor": "#333333", "padding": 8, "rowPadding": 11, "symbolOffset": 17.5, "labelOffset": 24.2, "labelExpr": "'M\u2003\u2009from GCMT'"}},
    "stroke": {"field": "s", "type": "nominal", "scale": {"domain": ["G"], "range": ["#0000c8"]}, "legend": {"title": null, "orient": "none", "legendX": 10, "legendY": 7.7, "fillColor": "#fffaf0", "strokeColor": "#333333", "padding": 8, "rowPadding": 11, "symbolOffset": 17.5, "labelOffset": 24.2, "labelExpr": "'M\u2003\u2009from GCMT'"}},
    "size": {"field": "s", "type": "nominal", "scale": {"type": "ordinal", "domain": ["G"], "range": [12]}, "legend": {"title": null, "orient": "none", "legendX": 10, "legendY": 7.7, "fillColor": "#fffaf0", "strokeColor": "#333333", "padding": 8, "rowPadding": 11, "symbolOffset": 17.5, "labelOffset": 24.2, "labelExpr": "'M\u2003\u2009from GCMT'"}}
   }},
  {"data": {"name": "br"}, "mark": {"type": "point", "filled": true, "opacity": 0, "size": 169, "strokeWidth": 0, "clip": true},
   "encoding": {
    "x": {"field": "x", "type": "quantitative", "axis": {"orient": "bottom", "labels": false, "ticks": false, "domain": false, "grid": false, "title": "b", "titleFontSize": 12, "titleX": 76.8, "titleY": 44, "titleAlign": "left", "titleBaseline": "alphabetic"}},
    "y": {"field": "y", "type": "quantitative", "axis": {"orient": "left", "labels": false, "ticks": false, "domain": false, "grid": false, "title": "W", "titleFontSize": 12, "titleX": -33, "titleY": 57.4, "titleAngle": 270, "titleAlign": "left", "titleBaseline": "alphabetic"}},
    "shape": {"field": "s", "type": "nominal", "scale": {"domain": ["G"], "range": ["circle"]}, "legend": {"title": null, "orient": "top-left", "offset": 0, "padding": 20.4, "rowPadding": 11, "labelOffset": 50.3, "labelFontSize": 10.5, "symbolSize": 169, "symbolOpacity": 0, "symbolStrokeWidth": 0, "labelExpr": "'W'"}}
   }},
  {"data": {"name": "fbr"}, "mark": {"type": "point", "opacity": 0, "clip": true},
   "encoding": {
    "x": {"field": "x", "type": "quantitative", "axis": {"orient": "bottom", "labels": false, "ticks": false, "domain": false, "grid": false, "title": ", events in Bárðarbunga", "titleX": 83.5, "titleY": 40, "titleAlign": "left", "titleBaseline": "alphabetic"}},
    "y": {"field": "y", "type": "quantitative", "axis": null}
   }}
 ]
}
]
}
